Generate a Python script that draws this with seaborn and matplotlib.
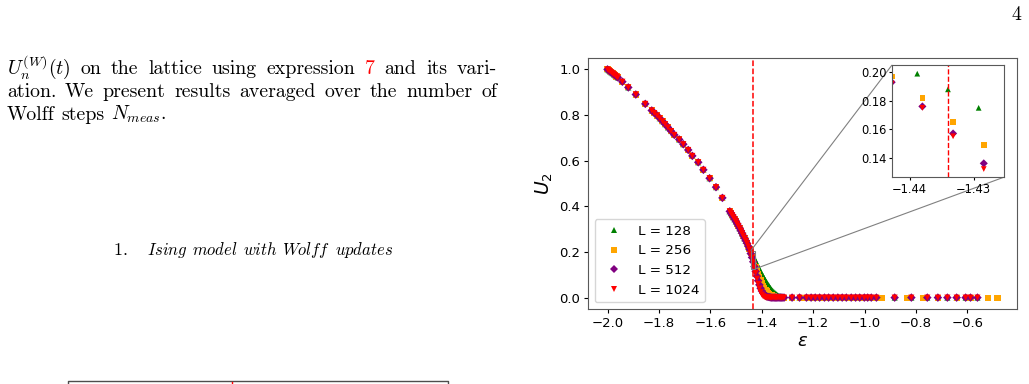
import pandas as pd
import matplotlib
matplotlib.use("Agg")
import matplotlib.pyplot as plt
from matplotlib.lines import Line2D
import seaborn as sns
from mpl_toolkits.axes_grid1.inset_locator import mark_inset

# ---- data ----
sizes = [128, 256, 512, 1024]
labels = ["L = 128", "L = 256", "L = 512", "L = 1024"]
colors = ["green", "orange", "purple", "red"]
markers = ["^", "s", "D", "v"]

# strong coupling side, all lattice sizes coincide
eps_top = [-2.000, -1.995, -1.990, -1.985, -1.980, -1.975, -1.970, -1.965, -1.960,
           -1.942, -1.919, -1.890, -1.853,
           -1.828, -1.818, -1.807, -1.797, -1.786, -1.776, -1.765, -1.753, -1.740,
           -1.721, -1.705, -1.686, -1.670, -1.647, -1.627, -1.603, -1.578, -1.553]
u_top = [1.000, 0.996, 0.991, 0.987, 0.983, 0.978, 0.974, 0.969, 0.965,
         0.946, 0.921, 0.890, 0.849,
         0.820, 0.809, 0.798, 0.786, 0.773, 0.760, 0.746, 0.730, 0.713,
         0.693, 0.672, 0.647, 0.621, 0.593, 0.560, 0.523, 0.484, 0.437]

# fine scan around the transition
eps_fine = [-1.5244, -1.5196, -1.5148, -1.5100, -1.5052, -1.5004, -1.4956, -1.4908, -1.4860, -1.4812,
            -1.4764, -1.4716, -1.4668, -1.4620, -1.4572, -1.4524, -1.4476, -1.4428, -1.4380, -1.4332,
            -1.4284, -1.4236, -1.4188, -1.4140, -1.4092, -1.4044, -1.3996, -1.3948, -1.3900, -1.3852,
            -1.3804, -1.3756, -1.3708, -1.3660, -1.3612, -1.3564, -1.3516, -1.3468, -1.3420, -1.3372,
            -1.3324, -1.3276, -1.3228, -1.3180, -1.3132]
eps_fine_128 = [-1.5252, -1.5204, -1.5156, -1.5108, -1.5060, -1.5012, -1.4964, -1.4916, -1.4868, -1.4820,
                -1.4772, -1.4724, -1.4676, -1.4628, -1.4580, -1.4532, -1.4484, -1.4436, -1.4388, -1.4340,
                -1.4292, -1.4244, -1.4196, -1.4148, -1.4100, -1.4052, -1.4004, -1.3956, -1.3908, -1.3860,
                -1.3812, -1.3764, -1.3716, -1.3668, -1.3620, -1.3572, -1.3524, -1.3476, -1.3428, -1.3380,
                -1.3332, -1.3284, -1.3236, -1.3188, -1.3140]

u_fine_128 = [0.378, 0.370, 0.361, 0.352, 0.343, 0.334, 0.324, 0.314, 0.304, 0.293,
              0.282, 0.271, 0.260, 0.250, 0.240, 0.231, 0.222, 0.211, 0.199, 0.188,
              0.175, 0.163, 0.151, 0.139, 0.128, 0.117, 0.106, 0.096, 0.086, 0.077,
              0.068, 0.059, 0.051, 0.043, 0.036, 0.030, 0.024, 0.019, 0.015, 0.011,
              0.008, 0.006, 0.004, 0.003, 0.002]
u_fine_256 = [0.378, 0.370, 0.361, 0.352, 0.343, 0.334, 0.324, 0.314, 0.304, 0.293,
              0.282, 0.271, 0.260, 0.249, 0.238, 0.225, 0.212, 0.197, 0.182, 0.165,
              0.149, 0.133, 0.117, 0.102, 0.088, 0.075, 0.063, 0.052, 0.043, 0.035,
              0.028, 0.022, 0.017, 0.013, 0.010, 0.007, 0.005, 0.004, 0.003, 0.002,
              0.001, 0.001, 0.000, 0.000, 0.000]
u_fine_512 = [0.378, 0.370, 0.361, 0.352, 0.343, 0.334, 0.324, 0.314, 0.304, 0.293,
              0.282, 0.271, 0.260, 0.249, 0.238, 0.225, 0.211, 0.193, 0.176, 0.157,
              0.136, 0.115, 0.094, 0.074, 0.056, 0.041, 0.029, 0.020, 0.013, 0.008,
              0.005, 0.003, 0.002, 0.001, 0.000, 0.000, 0.000, 0.000, 0.000, 0.000,
              0.000, 0.000, 0.000, 0.000, 0.000]
u_fine_1024 = [0.378, 0.370, 0.361, 0.352, 0.343, 0.334, 0.324, 0.314, 0.304, 0.293,
               0.282, 0.271, 0.260, 0.249, 0.238, 0.225, 0.210, 0.192, 0.175, 0.155,
               0.132, 0.108, 0.083, 0.060, 0.040, 0.024, 0.013, 0.006, 0.003, 0.001,
               0.000, 0.000, 0.000, 0.000, 0.000, 0.000, 0.000, 0.000, 0.000, 0.000,
               0.000, 0.000, 0.000, 0.000, 0.000]

# disordered side, U2 = 0
eps_tail = [-1.282, -1.253, -1.226, -1.208, -1.192, -1.175, -1.156, -1.140, -1.122, -1.104,
            -1.087, -1.071, -1.052, -1.035, -1.019, -1.001, -0.988, -0.974, -0.954, -0.883,
            -0.818, -0.756, -0.715, -0.678, -0.642, -0.607, -0.588, -0.561]
u_tail = [0.0, 0.0, 0.0, 0.0, 0.0, 0.0, 0.0, 0.0, 0.0, 0.0,
          0.0, 0.0, 0.0, 0.0, 0.0, 0.0, 0.0, 0.0, 0.0, 0.0,
          0.0, 0.0, 0.0, 0.0, 0.0, 0.0, 0.0, 0.0]
eps_tail_256 = [-1.282, -1.253, -1.226, -1.208, -1.192, -1.175, -1.156, -1.140, -1.122, -1.104,
                -1.087, -1.071, -1.052, -1.035, -1.019, -1.001, -0.988, -0.974, -0.954, -0.931,
                -0.834, -0.772, -0.715, -0.642, -0.588, -0.520, -0.483]
u_tail_256 = [0.0, 0.0, 0.0, 0.0, 0.0, 0.0, 0.0, 0.0, 0.0, 0.0,
              0.0, 0.0, 0.0, 0.0, 0.0, 0.0, 0.0, 0.0, 0.0, 0.0,
              0.0, 0.0, 0.0, 0.0, 0.0, 0.0, 0.0]

eps_c = -1.434

fine_eps = {128: eps_fine_128, 256: eps_fine, 512: eps_fine, 1024: eps_fine}
fine_u = {128: u_fine_128, 256: u_fine_256, 512: u_fine_512, 1024: u_fine_1024}
tail_eps = {128: eps_tail, 256: eps_tail_256, 512: eps_tail, 1024: eps_tail}
tail_u = {128: u_tail, 256: u_tail_256, 512: u_tail, 1024: u_tail}

frames = []
for L, lab in zip(sizes, labels):
    eps = eps_top + fine_eps[L] + tail_eps[L]
    u = u_top + fine_u[L] + tail_u[L]
    frames.append(pd.DataFrame({"eps": eps, "U2": u, "L": lab}))
df = pd.concat(frames, ignore_index=True)

palette = dict(zip(labels, colors))
marker_map = dict(zip(labels, markers))

# ---- figure ----
W, H = 1029, 384
fig = plt.figure(figsize=(W / 100, H / 100), dpi=100)
plt.rcParams["axes.edgecolor"] = "0.35"

ax = fig.add_axes([588 / W, 1 - 309 / H, 429 / W, 251 / H])
sns.scatterplot(data=df, x="eps", y="U2", hue="L", style="L", hue_order=labels,
                style_order=labels, palette=palette, markers=marker_map,
                s=19, linewidth=0, ax=ax)
ax.axvline(eps_c, color="red", ls="--", lw=1.1)
ax.set_xlabel(r"$\epsilon$", fontsize=13, labelpad=2)
ax.set_ylabel(r"$U_2$", fontsize=13.5, labelpad=3)
ax.set_xticks([-2.0, -1.8, -1.6, -1.4, -1.2, -1.0, -0.8, -0.6])
ax.set_yticks([0.0, 0.2, 0.4, 0.6, 0.8, 1.0])
ax.tick_params(labelsize=9.5, length=3, pad=2.5)
ax.legend(loc="lower left", fontsize=9.7, title=None, markerscale=0.85)

# zoomed inset
axins = fig.add_axes([892 / W, 1 - 177.3 / H, 111.6 / W, 112.3 / H])
sns.scatterplot(data=df, x="eps", y="U2", hue="L", style="L", hue_order=labels,
                style_order=labels, palette=palette, markers=marker_map,
                s=17, linewidth=0, ax=axins, legend=False)
axins.axvline(eps_c, color="red", ls="--", lw=1.0)
axins.set_xlim(-1.44275, -1.4253)
axins.set_ylim(0.1262, 0.2051)
axins.set_xticks([-1.44, -1.43])
axins.set_yticks([0.14, 0.16, 0.18, 0.20])
axins.set_xlabel("")
axins.set_ylabel("")
axins.tick_params(labelsize=8.3, length=2.5, pad=1.5)
mark_inset(ax, axins, loc1=2, loc2=4, fc="none", ec="0.5", lw=0.8)

# ---- surrounding page text ----
renderer = fig.canvas.get_renderer()
FS = 14.3


def put_words(words, y_px, x0, x1=None, word_colors=None, size=FS):
    if word_colors is None:
        word_colors = ["black"] * len(words)
    objs = [fig.text(0, 1 - y_px / H, w, fontsize=size, family="cmr10", math_fontfamily="cm",
                     color=c, va="baseline") for w, c in zip(words, word_colors)]
    widths = [t.get_window_extent(renderer).width for t in objs]
    if x1 is None:
        gap = 0.333 * size * 100 / 72
    else:
        gap = (x1 - x0 - sum(widths)) / (len(words) - 1)
    x = x0
    for t, w in zip(objs, widths):
        t.set_x(x / W)
        x += w + gap


line1 = [r"$U_n^{(W)}(t)$", "on", "the", "lattice", "using", "expression", "7", "and", "its", "vari-"]
put_words(line1, 74, 7, 497, ["black"] * 6 + ["red"] + ["black"] * 3)
line2 = ["ation.", "We", "present", "results", "averaged", "over", "the", "number", "of"]
put_words(line2, 97, 7, 497)
put_words(["Wolff", "steps", r"$N_{meas}.$"], 119.5, 7)

fig.text(113 / W, 1 - 255 / H, r"$\mathit{1.}$", fontsize=13, math_fontfamily="cm", va="baseline")
put_words([r"$\mathit{Ising}$", r"$\mathit{model}$", r"$\mathit{with}$",
           r"$\mathit{Wolff}$", r"$\mathit{updates}$"], 255, 147, 393, size=12.0)
fig.text(1021 / W, 1 - 20 / H, "4", fontsize=FS, family="cmr10", ha="right", va="baseline")

# top of the next figure peeking in at the bottom
fig.add_artist(Line2D([68 / W, 68 / W, 448 / W, 448 / W],
                      [0, 1 - 381 / H, 1 - 381 / H, 0],
                      transform=fig.transFigure, color="0.3", lw=1))
fig.add_artist(Line2D([232 / W, 232 / W], [0, 1 - 381.5 / H],
                      transform=fig.transFigure, color="red", lw=1))

fig.savefig("out.png", dpi=100, facecolor="white")
